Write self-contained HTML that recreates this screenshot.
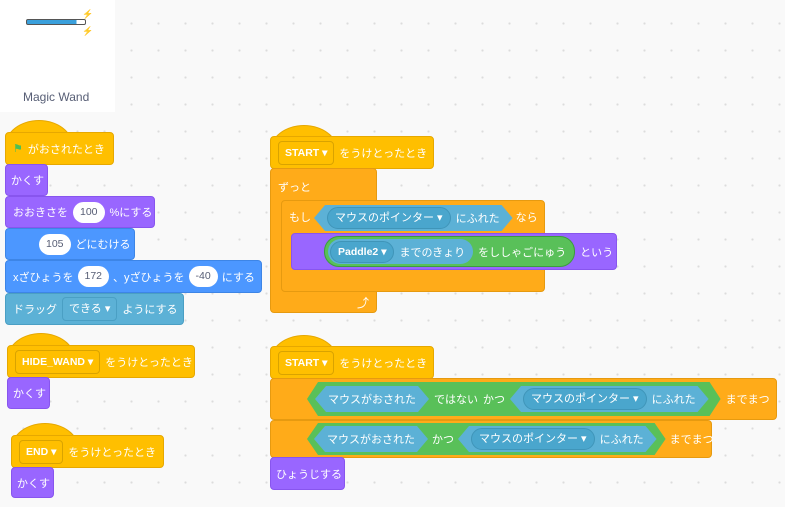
<!DOCTYPE html>
<html><head><meta charset="utf-8"><style>
*{box-sizing:border-box;margin:0;padding:0}
body{width:785px;height:507px;overflow:hidden;position:relative;background-color:#f9f9f9;background-image:radial-gradient(circle,#dcdcdc 1px,transparent 1.2px);background-size:27px 27px;background-position:10px 10px;font-family:"Liberation Sans","Noto Sans CJK JP",sans-serif;font-size:11px;color:#fff}
.b{position:absolute;display:flex;align-items:center;padding-left:7px;gap:5px;border-radius:4px;white-space:nowrap}
.ev{background:#ffbf00;border:1px solid #e6a800}
.lk{background:#9966ff;border:1px solid #8855ee}
.mo{background:#4c97ff;border:1px solid #3d85e6}
.se{background:#5cb1d6;border:1px solid #4a9fc4}
.co{background:#ffab19;border:1px solid #e69a10}
.dome{position:absolute;height:26px;border-radius:50% 50% 0 0/100% 100% 0 0}
.num{background:#fff;color:#575e75;border-radius:12px;padding:0 7px;height:21px;line-height:21px;font-size:10.5px}
.dd{border:1px solid #d9a300;border-radius:4px;padding:0 6px;height:24px;line-height:22px;font-weight:bold;font-size:10.5px}
.dd:after{content:" ▾"}
.ddb{background:#4aa6cd;border:1px solid #3f95b9;border-radius:12px;padding:0 7px;height:22px;line-height:20px}
.ddb:after{content:" ▾"}
.hex{display:flex;align-items:center;gap:5px;height:26px;padding:0 13px;clip-path:polygon(11px 0,calc(100% - 11px) 0,100% 50%,calc(100% - 11px) 100%,11px 100%,0 50%)}
.hs{background:#5cb1d6}
.hg{background:#59c059}
</style></head><body>
<div style="position:absolute;left:0;top:0;width:115px;height:112px;background:#fff"></div>
<div style="position:absolute;left:26px;top:19px;width:60px;height:6px;border:1px solid #555;border-radius:2px;background:linear-gradient(90deg,#3aa0dc 85%,#fff 85%)"></div>
<div style="position:absolute;left:82px;top:9px;color:#ffc400;font-size:9px">⚡</div>
<div style="position:absolute;left:82px;top:26px;color:#ffc400;font-size:9px">⚡</div>
<div style="position:absolute;left:23px;top:90px;color:#575e75;font-size:12px">Magic Wand</div>

<!-- stack 1 -->
<div class="dome ev" style="left:5px;top:120px;width:68px;border-bottom:none"></div>
<div class="b ev" style="left:5px;top:132px;width:109px;height:33px"><span style="color:#4cbf56">⚑</span>がおされたとき</div>
<div class="b lk" style="left:5px;top:164px;width:43px;height:32px;padding-left:5px">かくす</div>
<div class="b lk" style="left:5px;top:196px;width:150px;height:32px">おおきさを<span class="num">100</span>%にする</div>
<div class="b mo" style="left:5px;top:228px;width:130px;height:32px;padding-left:33px"><span class="num">105</span>どにむける</div>
<div class="b mo" style="left:5px;top:260px;width:257px;height:33px;gap:4px">xざひょうを<span class="num">172</span>、yざひょうを<span class="num">-40</span>にする</div>
<div class="b se" style="left:5px;top:293px;width:179px;height:32px">ドラッグ<span class="dd" style="border-color:#4a9fc4;font-weight:normal;font-size:11px">できる</span>ようにする</div>

<div class="dome ev" style="left:7px;top:333px;width:68px"></div>
<div class="b ev" style="left:7px;top:345px;width:188px;height:33px"><span class="dd">HIDE_WAND</span>をうけとったとき</div>
<div class="b lk" style="left:7px;top:377px;width:43px;height:32px;padding-left:5px">かくす</div>

<div class="dome ev" style="left:11px;top:423px;width:68px"></div>
<div class="b ev" style="left:11px;top:435px;width:153px;height:33px"><span class="dd">END</span>をうけとったとき</div>
<div class="b lk" style="left:11px;top:467px;width:43px;height:31px;padding-left:5px">かくす</div>

<!-- stack 2 -->
<div class="dome ev" style="left:270px;top:125px;width:68px"></div>
<div class="b ev" style="left:270px;top:136px;width:164px;height:33px"><span class="dd">START</span>をうけとったとき</div>
<div class="b co" style="left:270px;top:168px;width:107px;height:145px;align-items:flex-start;padding-top:10px">ずっと</div>
<div class="b co" style="left:281px;top:200px;width:264px;height:92px;align-items:flex-start;padding-top:4px;gap:3px"><span style="line-height:26px">もし</span><span class="hex hs" style="height:26px"><span class="ddb">マウスのポインター</span>にふれた</span><span style="line-height:26px">なら</span></div>
<div style="position:absolute;left:357px;top:294px;font-size:12px">⤴</div>
<div class="b lk" style="left:291px;top:233px;width:326px;height:37px;padding-left:32px"><span style="display:flex;align-items:center;gap:5px;background:#59c059;border:1px solid #3d9c3d;border-radius:15px;height:31px;padding:0 8px 0 3px"><span style="display:flex;align-items:center;gap:5px;background:#5cb1d6;border-radius:13px;height:25px;padding:0 8px 0 2px"><span class="ddb" style="font-weight:bold;font-size:10.5px">Paddle2</span>までのきょり</span>をししゃごにゅう</span>という</div>

<!-- stack 3 -->
<div class="dome ev" style="left:270px;top:335px;width:68px"></div>
<div class="b ev" style="left:270px;top:346px;width:164px;height:33px"><span class="dd">START</span>をうけとったとき</div>
<div class="b co" style="left:270px;top:378px;width:507px;height:42px;padding-left:36px"><span class="hex hg" style="height:34px;gap:5px;padding:0 12px 0 8px"><span class="hex hs">マウスがおされた</span>ではない<span>かつ</span><span class="hex hs"><span class="ddb">マウスのポインター</span>にふれた</span></span>までまつ</div>
<div class="b co" style="left:270px;top:420px;width:442px;height:38px;padding-left:36px;gap:4px"><span class="hex hg" style="height:32px;padding:0 9px 0 7px;gap:4px"><span class="hex hs">マウスがおされた</span>かつ<span class="hex hs"><span class="ddb">マウスのポインター</span>にふれた</span></span>までまつ</div>
<div class="b lk" style="left:270px;top:457px;width:75px;height:33px;padding-left:5px">ひょうじする</div>
</body></html>
